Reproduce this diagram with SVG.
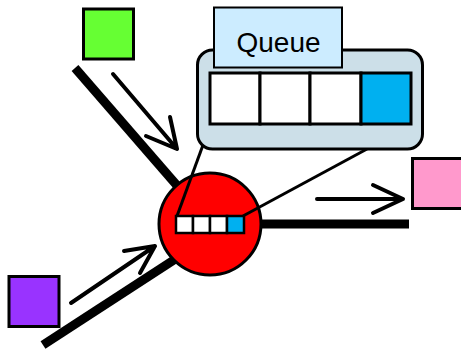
<svg xmlns="http://www.w3.org/2000/svg" width="461" height="351" viewBox="0 0 461 351">
<style>
.thick{stroke:#000;stroke-width:9;fill:none}
.thin{stroke:#000;stroke-width:4;fill:none;stroke-linecap:round;stroke-linejoin:round}
.lead{stroke:#000;stroke-width:3;fill:none}
.box{stroke:#000;stroke-width:3}
.cell{fill:#fff;stroke:#000;stroke-width:3}
.cellb{fill:#00B0F0;stroke:#000;stroke-width:3}
.mcell{fill:#fff;stroke:#000;stroke-width:2.5}
.mcellb{fill:#00B0F0;stroke:#000;stroke-width:2.5}
</style>
<g id="connectors">
<line class="thick" x1="75" y1="68" x2="200" y2="212"/>
<line class="thick" x1="43" y1="345" x2="200" y2="243"/>
<line class="thick" x1="230" y1="224" x2="409" y2="224"/>
<path class="thin" d="M113 74 L177 149 M146 136 L177 149 L170 117"/>
<path class="thin" d="M71 303 L155 246 M124 251 L155 246 L140 273"/>
<path class="thin" d="M317 199 L403 199 M373 185 L403 199 L373 213"/>
</g>
<g id="src-green"><rect x="83.5" y="9" width="50" height="50" fill="#66FF33" stroke="#000" stroke-width="3"/></g>
<g id="src-purple"><rect x="9" y="276.5" width="50" height="50" fill="#9933FF" stroke="#000" stroke-width="3"/></g>
<g id="dst-pink"><rect x="412.5" y="158.5" width="52" height="50" fill="#FF99CC" stroke="#000" stroke-width="3"/></g>
<g id="router">
<circle cx="210" cy="224" r="51" fill="#FF0000" stroke="#000" stroke-width="3"/>
<rect class="mcell" x="176" y="216" width="17" height="17"/>
<rect class="mcell" x="193" y="216" width="17" height="17"/>
<rect class="mcell" x="210" y="216" width="17" height="17"/>
<rect class="mcellb" x="227" y="216" width="17" height="17"/>
</g>
<g id="zoom-leads">
<line class="lead" x1="203" y1="145" x2="177" y2="216"/>
<line class="lead" x1="367" y1="149" x2="243" y2="216"/>
</g>
<g id="queue">
<rect x="197.5" y="50" width="225" height="99" rx="15" fill="#CCDFE8" class="box"/>
<rect class="cell" x="210" y="73" width="50" height="51"/>
<rect class="cell" x="260" y="73" width="50" height="51"/>
<rect class="cell" x="310" y="73" width="51" height="51"/>
<rect class="cellb" x="361" y="73" width="50" height="51"/>
</g>
<g id="queue-label">
<rect x="214" y="7.5" width="128" height="60" fill="#CCECFF" stroke="#000" stroke-width="2"/>
<text x="278.5" y="52" font-family="Liberation Sans, Arial, sans-serif" font-size="28" text-anchor="middle" fill="#000">Queue</text>
</g>
</svg>
